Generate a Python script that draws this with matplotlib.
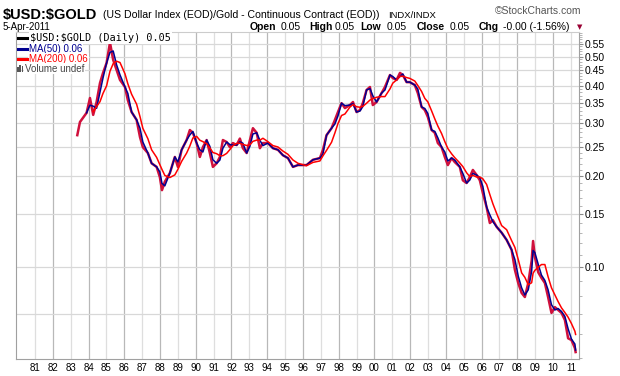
"""$USD:$GOLD ratio chart, StockCharts style, 1983-2011."""
import numpy as np
import matplotlib
matplotlib.use("Agg")
import matplotlib.pyplot as plt
from matplotlib.lines import Line2D
from matplotlib.patches import Rectangle
from matplotlib.ticker import FixedLocator, FormatStrFormatter, NullFormatter

# ---- data (decimal year, ratio) ----
years = np.array([
    1983.37, 1983.52, 1983.89, 1984.08, 1984.26, 1984.45, 1984.64, 1984.81,
    1985.01, 1985.20, 1985.38, 1985.57, 1985.76, 1986.04, 1986.20, 1986.41,
    1986.69, 1986.88, 1987.04, 1987.32, 1987.53, 1987.81, 1987.99, 1988.11,
    1988.27, 1988.55, 1988.83, 1989.00, 1989.21, 1989.49, 1989.67, 1989.84,
    1990.05, 1990.23, 1990.40, 1990.61, 1990.79, 1990.96, 1991.17, 1991.35,
    1991.52, 1991.73, 1991.91, 1992.08, 1992.29, 1992.47, 1992.64, 1992.85,
    1993.03, 1993.20, 1993.41, 1993.59, 1993.76, 1994.04, 1994.32, 1994.60,
    1994.88, 1995.16, 1995.44, 1995.72, 1996.20, 1996.56, 1996.95, 1997.12,
    1997.32, 1997.60, 1997.79, 1997.96, 1998.16, 1998.35, 1998.63, 1998.80,
    1999.00, 1999.19, 1999.35, 1999.56, 1999.75, 1999.91, 2000.12, 2000.40,
    2000.59, 2000.87, 2001.03, 2001.24, 2001.43, 2001.59, 2001.80, 2001.98,
    2002.26, 2002.43, 2002.64, 2002.82, 2002.99, 2003.20, 2003.38, 2003.55,
    2003.76, 2003.94, 2004.11, 2004.32, 2004.50, 2004.78, 2004.95, 2005.16,
    2005.34, 2005.51, 2005.72, 2005.90, 2006.07, 2006.28, 2006.46, 2006.63,
    2006.84, 2007.12, 2007.40, 2007.68, 2007.86, 2008.05, 2008.24, 2008.42,
    2008.61, 2008.80, 2008.88, 2008.98, 2009.17, 2009.35, 2009.54, 2009.72,
    2009.91, 2010.10, 2010.28, 2010.47, 2010.66, 2010.84, 2011.03, 2011.22,
    2011.26,
])
ratio = np.array([
    0.274, 0.303, 0.325, 0.364, 0.320, 0.353, 0.408, 0.441,
    0.476, 0.556, 0.487, 0.451, 0.418, 0.396, 0.358, 0.327,
    0.308, 0.270, 0.250, 0.239, 0.221, 0.215, 0.199, 0.180,
    0.192, 0.205, 0.232, 0.215, 0.245, 0.264, 0.285, 0.279,
    0.258, 0.232, 0.250, 0.264, 0.239, 0.215, 0.221, 0.232,
    0.264, 0.260, 0.250, 0.258, 0.254, 0.267, 0.248, 0.239,
    0.264, 0.289, 0.279, 0.248, 0.258, 0.258, 0.248, 0.245,
    0.235, 0.230, 0.215, 0.218, 0.218, 0.227, 0.230, 0.245,
    0.274, 0.289, 0.308, 0.327, 0.350, 0.337, 0.345, 0.353,
    0.327, 0.332, 0.350, 0.387, 0.396, 0.345, 0.353, 0.378,
    0.396, 0.434, 0.424, 0.418, 0.441, 0.434, 0.411, 0.411,
    0.402, 0.378, 0.340, 0.332, 0.315, 0.285, 0.279, 0.258,
    0.250, 0.232, 0.218, 0.230, 0.223, 0.215, 0.194, 0.190,
    0.199, 0.210, 0.202, 0.194, 0.176, 0.158, 0.140, 0.143,
    0.136, 0.130, 0.123, 0.114, 0.098, 0.0885, 0.082, 0.0795,
    0.0885, 0.105, 0.122, 0.108, 0.096, 0.092, 0.0885, 0.0795,
    0.0704, 0.0736, 0.072, 0.0704, 0.0667, 0.058, 0.0572, 0.0538,
    0.0522,
])

year_ticks = list(range(1981, 2012))
price_ticks = [0.10, 0.15, 0.20, 0.25, 0.30, 0.35, 0.40, 0.45, 0.50, 0.55]
extra_grid = [0.07]

SANS = "Liberation Sans"
MONO = "DejaVu Sans Mono"

C_PRICE = "#d0103c"
C_MA50 = "#000090"
C_MA200 = "#ff0000"


def moving_avg(t, v, span):
    # trailing mean over a time window (years); nan until a full window exists
    out = np.full(len(v), np.nan)
    for i in range(len(v)):
        if t[i] - t[0] < span:
            continue
        m = (t > t[i] - span) & (t <= t[i])
        out[i] = v[m].mean()
    return out


ma50 = moving_avg(years, ratio, 50 / 252)
ma200 = moving_avg(years, ratio, 200 / 252)

W, H = 620, 376
fig = plt.figure(figsize=(W / 100, H / 100), dpi=100, facecolor="white")
ax = fig.add_axes([16 / W, 17 / H, 563 / W, 327 / H])


def fx(px):
    return px / W


def fy(py):
    return 1 - py / H


ax.set_yscale("log")
ax.set_xlim(1979.94, 2011.45)
ax.set_ylim(0.0495, 0.603)

# grid
for yr in year_ticks:
    ax.axvline(yr, color="#b8b8b8" if yr % 2 == 0 else "#dedede", lw=0.9, zorder=0)
for v in price_ticks + extra_grid:
    ax.axhline(v, color="#d8d8d8", lw=0.9, zorder=0)

ax.plot(years, ratio, color=C_PRICE, lw=1.8, zorder=2)
ax.plot(years, ma50, color=C_MA50, lw=1.1, zorder=3)
ax.plot(years, ma200, color=C_MA200, lw=1.1, zorder=4)

# axes styling
for side in ["left", "bottom", "right"]:
    ax.spines[side].set_color("#a0a0a0")
ax.spines["top"].set_color("#cccccc")
ax.xaxis.set_major_locator(FixedLocator(year_ticks))
ax.set_xticklabels([f"{y % 100:02d}" for y in year_ticks], fontsize=7, family=SANS)
ax.tick_params(axis="x", length=0, pad=3)

ax.yaxis.tick_right()
ax.yaxis.set_major_locator(FixedLocator(price_ticks))
ax.yaxis.set_major_formatter(FormatStrFormatter("%.2f"))
ax.yaxis.set_minor_locator(FixedLocator(np.arange(0.05, 0.605, 0.01)))
ax.yaxis.set_minor_formatter(NullFormatter())
ax.tick_params(axis="y", which="major", length=3, color="#888888", pad=1, labelsize=7.5)
ax.tick_params(axis="y", which="minor", length=2, color="#aaaaaa")
for lab in ax.get_yticklabels():
    lab.set_family(SANS)

# header
fig.text(fx(3), fy(18.5), r"\$USD:\$GOLD", fontsize=10.5, weight="bold", family=SANS, va="baseline")
fig.text(fx(103), fy(18), "(US Dollar Index (EOD)/Gold - Continuous Contract (EOD))",
         fontsize=7.6, family=SANS, va="baseline")
fig.text(fx(388), fy(18), "INDX/INDX", fontsize=6.8, family=SANS, va="baseline")
fig.text(fx(581), fy(14), "\u00a9StockCharts.com", fontsize=7.5, family=SANS, color="#555555",
         ha="right", va="baseline")
fig.text(fx(3), fy(30), "5-Apr-2011", fontsize=7, family=SANS, va="baseline")
for px, s, bold in [(250, "Open", True), (281, "0.05", False), (309, "High", True),
                    (335, "0.05", False), (360, "Low", True), (387, "0.05", False),
                    (417, "Close", True), (450, "0.05", False), (479, "Chg", True),
                    (503, "-0.00 (-1.56%)", False)]:
    fig.text(fx(px), fy(29.5), s, fontsize=7.5, family=SANS, va="baseline",
             weight="bold" if bold else "normal")
fig.text(fx(580), fy(29), "\u25bc", fontsize=5, family="DejaVu Sans", color="#990033",
         ha="center", va="baseline")

# legend block
box = dict(facecolor="white", edgecolor="none", pad=0.6)
fig.text(fx(30), fy(38), r"\$USD:\$GOLD (Daily) 0.05", fontsize=7.3, family=MONO,
         color="black", va="center", bbox=box, zorder=5)
legend_rows = [
    (48.5, "MA(50) 0.06", C_MA50, 29),
    (58.5, "MA(200) 0.06", C_MA200, 29),
    (68.5, "Volume undef", "#444444", 25),
]
for py, s, col, tx in legend_rows:
    fig.text(fx(tx), fy(py), s, fontsize=7, family=SANS, color=col, va="center", bbox=box, zorder=5)
for py, col in [(38, "black"), (48.5, C_MA50), (58.5, C_MA200)]:
    fig.add_artist(Line2D([fx(18), fx(27)], [fy(py), fy(py)], color=col, lw=2.2, zorder=6))
for i, hgt in enumerate([5, 7, 6]):
    fig.add_artist(Rectangle((fx(17 + i * 2.3), fy(72)), 1.6 / W, hgt / H,
                             facecolor="#555555", edgecolor="none", zorder=6))

fig.savefig("out.png", dpi=100, facecolor="white")
